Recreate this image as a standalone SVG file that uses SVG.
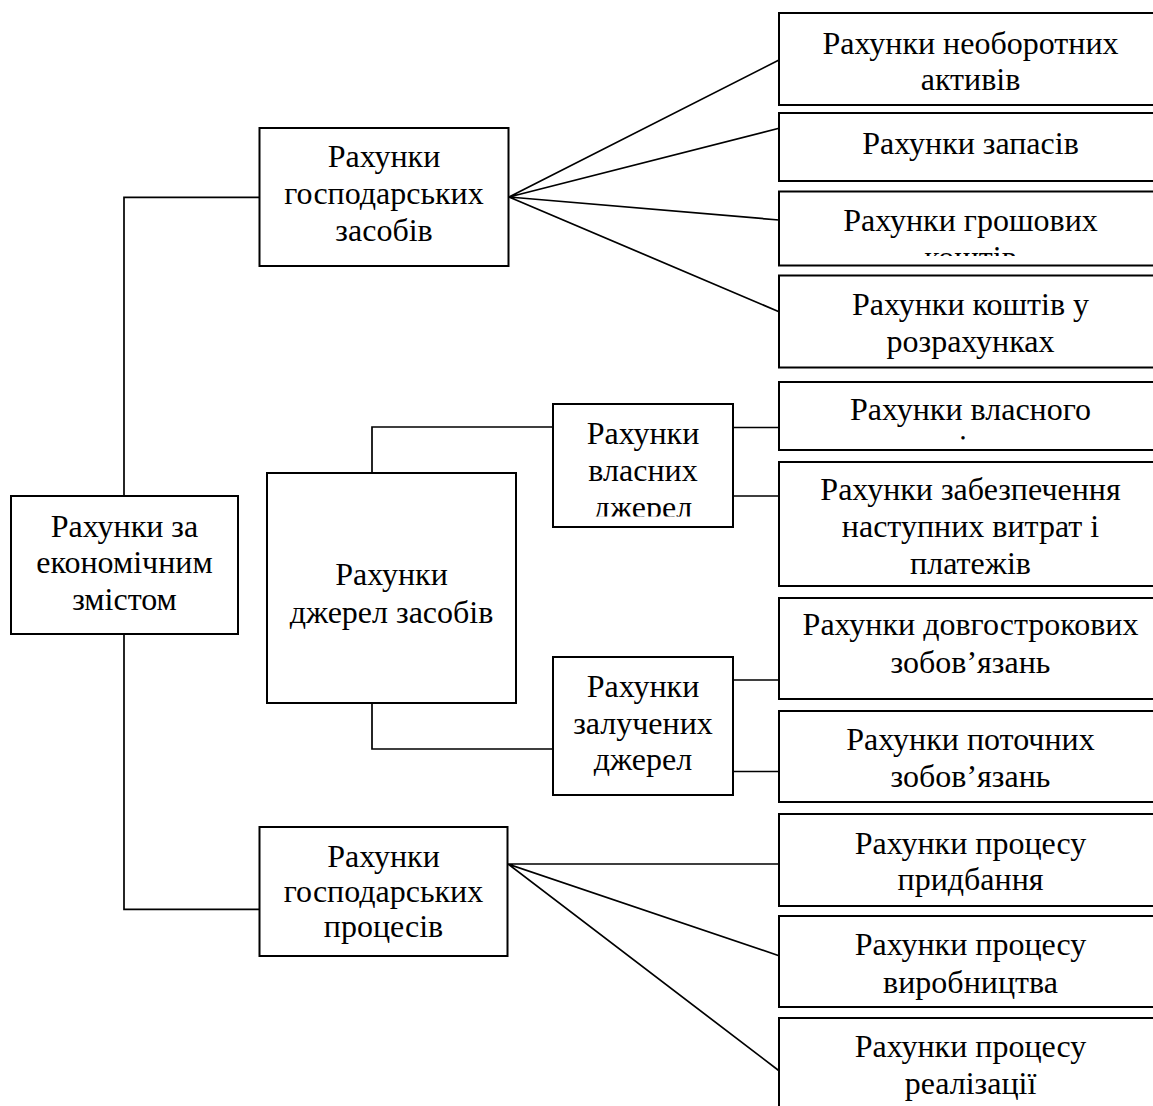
<svg xmlns="http://www.w3.org/2000/svg" width="1153" height="1106" viewBox="0 0 1153 1106">
<style>
.box{fill:#fff;stroke:#000;stroke-width:2}
.t{font-family:"Liberation Serif","Times New Roman",serif;font-size:32px;text-anchor:middle;fill:#000}
.c{stroke:#000;stroke-width:1.7;fill:none}
</style>
<defs>
<clipPath id="clipR3"><rect x="779" y="191" width="383" height="65"/></clipPath>
<clipPath id="clipR5"><rect x="779" y="382" width="383" height="58"/></clipPath>
<clipPath id="clipN3"><rect x="553" y="404" width="180" height="112.5"/></clipPath>
</defs>
<rect width="1153" height="1106" fill="#fff"/>
<g id="connectors">
<path class="c" d="M124 496 V197.3 H259.5"/>
<path class="c" d="M124 634 V909.3 H259.5"/>
<path class="c" d="M509 197 L779 60 M509 197 L779 128.3 M509 197 L779 220 M509 197 L779 311.7"/>
<path class="c" d="M372 473 V427 H553"/>
<path class="c" d="M372 703 V749 H553"/>
<path class="c" d="M733 427.5 H779 M733 496 H779"/>
<path class="c" d="M733 680 H779 M733 771.5 H779"/>
<path class="c" d="M508 864 H779 M508 864 L779 955.7 M508 864 L779 1070.7"/>
</g>
<g id="n0">
<rect class="box" x="11" y="496" width="227" height="138"/>
<text class="t" x="124.5" y="537">Рахунки за</text>
<text class="t" x="124.5" y="573">економічним</text>
<text class="t" x="124.5" y="610">змістом</text>
</g>
<g id="n1">
<rect class="box" x="259.5" y="128" width="249" height="138"/>
<text class="t" x="384" y="167">Рахунки</text>
<text class="t" x="384" y="204">господарських</text>
<text class="t" x="384" y="241">засобів</text>
</g>
<g id="n2">
<rect class="box" x="267" y="473" width="249" height="230"/>
<text class="t" x="391.5" y="585">Рахунки</text>
<text class="t" x="391.5" y="623">джерел засобів</text>
</g>
<g id="n3">
<rect class="box" x="553" y="404" width="180" height="123"/>
<g clip-path="url(#clipN3)">
<text class="t" x="643" y="444">Рахунки</text>
<text class="t" x="643" y="481">власних</text>
<text class="t" x="643" y="518">джерел</text>
</g>
</g>
<g id="n4">
<rect class="box" x="553" y="657" width="180" height="138"/>
<text class="t" x="643" y="697">Рахунки</text>
<text class="t" x="643" y="733.5">залучених</text>
<text class="t" x="643" y="770">джерел</text>
</g>
<g id="n5">
<rect class="box" x="259.5" y="827" width="248" height="129"/>
<text class="t" x="383.5" y="867">Рахунки</text>
<text class="t" x="383.5" y="902">господарських</text>
<text class="t" x="383.5" y="937">процесів</text>
</g>
<g id="r1">
<rect class="box" x="779" y="13" width="383" height="92"/>
<text class="t" x="970.5" y="53.5">Рахунки необоротних</text>
<text class="t" x="970.5" y="89.5">активів</text>
</g>
<g id="r2">
<rect class="box" x="779" y="113" width="383" height="68"/>
<text class="t" x="970.5" y="153.5">Рахунки запасів</text>
</g>
<g id="r3">
<rect class="box" x="779" y="191.5" width="383" height="74"/>
<g clip-path="url(#clipR3)">
<text class="t" x="970.5" y="230.5">Рахунки грошових</text>
<text class="t" x="970.5" y="267.5">коштів</text>
</g>
</g>
<g id="r4">
<rect class="box" x="779" y="275.5" width="383" height="92"/>
<text class="t" x="970.5" y="315">Рахунки коштів у</text>
<text class="t" x="970.5" y="352">розрахунках</text>
</g>
<g id="r5">
<rect class="box" x="779" y="382" width="383" height="68"/>
<g clip-path="url(#clipR5)">
<text class="t" x="970.5" y="420">Рахунки власного</text>
<text class="t" x="970.5" y="457">капіталу</text>
</g>
</g>
<g id="r6">
<rect class="box" x="779" y="462" width="383" height="124"/>
<text class="t" x="970.5" y="499.5">Рахунки забезпечення</text>
<text class="t" x="970.5" y="536.5">наступних витрат і</text>
<text class="t" x="970.5" y="573.5">платежів</text>
</g>
<g id="r7">
<rect class="box" x="779" y="598" width="383" height="101"/>
<text class="t" x="970.5" y="635">Рахунки довгострокових</text>
<text class="t" x="970.5" y="673">зобов’язань</text>
</g>
<g id="r8">
<rect class="box" x="779" y="711" width="383" height="91"/>
<text class="t" x="970.5" y="750">Рахунки поточних</text>
<text class="t" x="970.5" y="787">зобов’язань</text>
</g>
<g id="r9">
<rect class="box" x="779" y="814" width="383" height="92"/>
<text class="t" x="970.5" y="853.5">Рахунки процесу</text>
<text class="t" x="970.5" y="890">придбання</text>
</g>
<g id="r10">
<rect class="box" x="779" y="916" width="383" height="91"/>
<text class="t" x="970.5" y="955">Рахунки процесу</text>
<text class="t" x="970.5" y="992.5">виробництва</text>
</g>
<g id="r11">
<rect class="box" x="779" y="1018" width="383" height="100"/>
<text class="t" x="970.5" y="1057">Рахунки процесу</text>
<text class="t" x="970.5" y="1093.5">реалізації</text>
</g>
</svg>
